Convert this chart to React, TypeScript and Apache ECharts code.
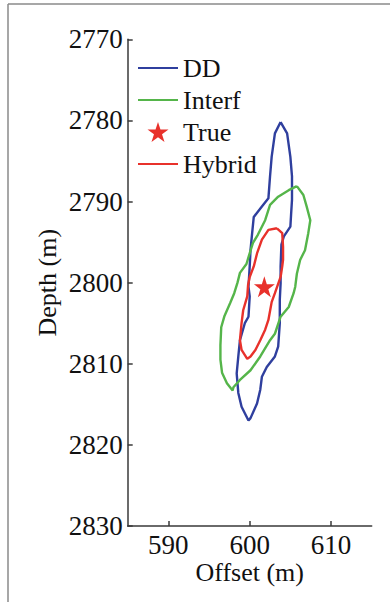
import React, { useEffect, useRef } from 'react';
import * as echarts from 'echarts';

// Contours: [offset (m), depth (m)]
const ddContour: number[][] = [
  [603.8, 2780.2], [604.6, 2781.6], [605.0, 2784.5], [605.2, 2786.9], [605.2, 2789.8],
  [605.1, 2791.4], [605.0, 2793.1], [604.2, 2794.3], [603.9, 2795.3], [603.8, 2798.0],
  [603.8, 2800.1], [603.7, 2802.1], [603.7, 2805.0], [603.5, 2807.9], [603.1, 2809.1],
  [602.1, 2810.4], [601.5, 2811.6], [601.3, 2813.2], [600.9, 2814.9], [600.1, 2816.7],
  [599.85, 2817.0], [599.0, 2815.3], [598.6, 2813.6], [598.4, 2811.2], [598.6, 2809.1],
  [598.8, 2807.1], [599.4, 2805.0], [599.85, 2804.2], [600.0, 2801.7], [599.85, 2800.5],
  [600.0, 2798.0], [600.1, 2796.0], [600.3, 2793.9], [600.5, 2791.9], [601.5, 2790.6],
  [602.3, 2789.6], [602.5, 2786.9], [602.7, 2784.5], [603.1, 2781.6], [603.8, 2780.2],
];

const interfContour: number[][] = [
  [605.8, 2788.1], [606.6, 2789.2], [607.0, 2790.6], [607.45, 2792.3], [607.2, 2793.9],
  [606.8, 2796.0], [606.2, 2797.2], [605.8, 2798.9], [605.6, 2800.5], [605.4, 2801.3],
  [604.8, 2803.0], [603.8, 2804.2], [603.1, 2806.3], [602.5, 2807.1], [601.3, 2809.1],
  [600.1, 2810.8], [598.8, 2812.0], [598.0, 2812.9], [597.9, 2813.3], [597.2, 2812.4],
  [596.6, 2811.1], [596.4, 2809.5], [596.4, 2807.7], [596.5, 2805.5], [596.9, 2804.1],
  [597.6, 2802.5], [598.1, 2801.3], [598.5, 2800.0], [598.8, 2798.8], [599.6, 2797.7],
  [599.9, 2796.7], [600.4, 2795.1], [601.0, 2794.1], [601.9, 2792.3], [602.5, 2790.4],
  [603.5, 2789.4], [604.8, 2788.6], [605.8, 2788.1],
];

const hybridContour: number[][] = [
  [603.35, 2793.3], [604.0, 2793.9], [604.1, 2795.6], [604.1, 2797.2], [604.0, 2798.0],
  [603.8, 2799.3], [603.1, 2801.3], [602.7, 2802.4], [602.3, 2804.6], [601.9, 2805.8],
  [601.3, 2807.1], [600.7, 2808.3], [600.1, 2809.1], [599.7, 2809.4], [599.0, 2808.3],
  [598.8, 2807.1], [599.0, 2805.0], [599.2, 2803.4], [599.7, 2801.7], [599.8, 2800.3],
  [600.0, 2799.3], [600.5, 2798.0], [600.9, 2796.4], [601.5, 2794.7], [602.3, 2793.5],
  [603.35, 2793.3],
];

const truePoint: number[][] = [[601.8, 2800.5]];

const xTicks = [590, 600, 610];
const legendNames = ['DD', 'Interf', 'True', 'Hybrid'];

const STAR =
  'path://M50,0L61.2,34.5L97.6,34.5L68.2,55.9L79.4,90.5L50,69.1L20.6,90.5L31.8,55.9L2.4,34.5L38.8,34.5Z';

const FONT = "'Liberation Serif', 'Times New Roman', serif";
const BLUE = '#2f3f9e';
const GREEN = '#55b54a';
const RED = '#e8312b';
const AXIS = '#3a3a3a';

export default function App() {
  const ref = useRef<HTMLDivElement>(null);

  useEffect(() => {
    if (!ref.current) return;
    const chart = echarts.init(ref.current, null, { renderer: 'svg' });
    const hideSym = { itemStyle: { opacity: 0 } };
    chart.setOption({
      animation: false,
      backgroundColor: '#ffffff',
      textStyle: { fontFamily: FONT },
      grid: { left: 127.7, right: 18.3, top: 39.3, bottom: 76, containLabel: false },
      legend: {
        orient: 'vertical',
        left: 132,
        top: 50,
        itemWidth: 40,
        itemHeight: 20,
        itemGap: 6,
        data: [
          { name: legendNames[0], ...hideSym },
          { name: legendNames[1], ...hideSym },
          { name: legendNames[2], icon: STAR },
          { name: legendNames[3], ...hideSym },
        ],
        textStyle: { fontFamily: FONT, fontSize: 26, color: '#111' },
        selectedMode: false,
      },
      xAxis: {
        type: 'value',
        min: 585,
        max: 615,
        name: 'Offset (m)',
        nameLocation: 'middle',
        nameGap: 33,
        nameMoveOverlap: false,
        nameTextStyle: { fontFamily: FONT, fontSize: 26, color: '#111' },
        axisLine: { show: true, onZero: false, lineStyle: { color: AXIS, width: 1.5 } },
        axisTick: { show: true, inside: true, length: 5, customValues: xTicks, lineStyle: { color: AXIS, width: 1.5 } },
        axisLabel: { customValues: xTicks, fontFamily: FONT, fontSize: 27, color: '#111', margin: 5, formatter: (v: number) => String(v) },
        splitLine: { show: false },
      },
      yAxis: {
        type: 'value',
        inverse: true,
        min: 2770,
        max: 2830,
        interval: 10,
        name: 'Depth (m)',
        nameLocation: 'middle',
        nameGap: 67,
        nameMoveOverlap: false,
        nameTextStyle: { fontFamily: FONT, fontSize: 26, color: '#111' },
        axisLine: { show: true, onZero: false, lineStyle: { color: AXIS, width: 1.5 } },
        axisTick: { show: true, inside: true, length: 5, lineStyle: { color: AXIS, width: 1.5 } },
        axisLabel: { fontFamily: FONT, fontSize: 27, color: '#111', margin: 5, formatter: (v: number) => String(v) },
        splitLine: { show: false },
      },
      graphic: [
        { type: 'line', shape: { x1: 8, y1: 4, x2: 390, y2: 4 }, style: { stroke: '#8a8a8a', lineWidth: 1.5 } },
        { type: 'line', shape: { x1: 8, y1: 4, x2: 8, y2: 602 }, style: { stroke: '#8a8a8a', lineWidth: 1.5 } },
      ],
      series: [
        {
          name: 'DD',
          type: 'line',
          data: ddContour,
          symbol: 'none',
          smooth: false,
          lineStyle: { color: BLUE, width: 2.4 },
          itemStyle: { color: BLUE },
          z: 2,
        },
        {
          name: 'Interf',
          type: 'line',
          data: interfContour,
          symbol: 'none',
          smooth: false,
          lineStyle: { color: GREEN, width: 2.4 },
          itemStyle: { color: GREEN },
          z: 3,
        },
        {
          name: 'Hybrid',
          type: 'line',
          data: hybridContour,
          symbol: 'none',
          smooth: false,
          lineStyle: { color: RED, width: 2.4 },
          itemStyle: { color: RED },
          z: 4,
        },
        {
          name: 'True',
          type: 'scatter',
          data: truePoint,
          symbol: STAR,
          symbolSize: 21,
          itemStyle: { color: RED, opacity: 1 },
          z: 5,
        },
      ],
    });
    return () => chart.dispose();
  }, []);

  return (
    <div
      ref={ref}
      style={{ position: 'fixed', left: 0, top: 0, width: 390, height: 602, background: '#fff' }}
    />
  );
}
